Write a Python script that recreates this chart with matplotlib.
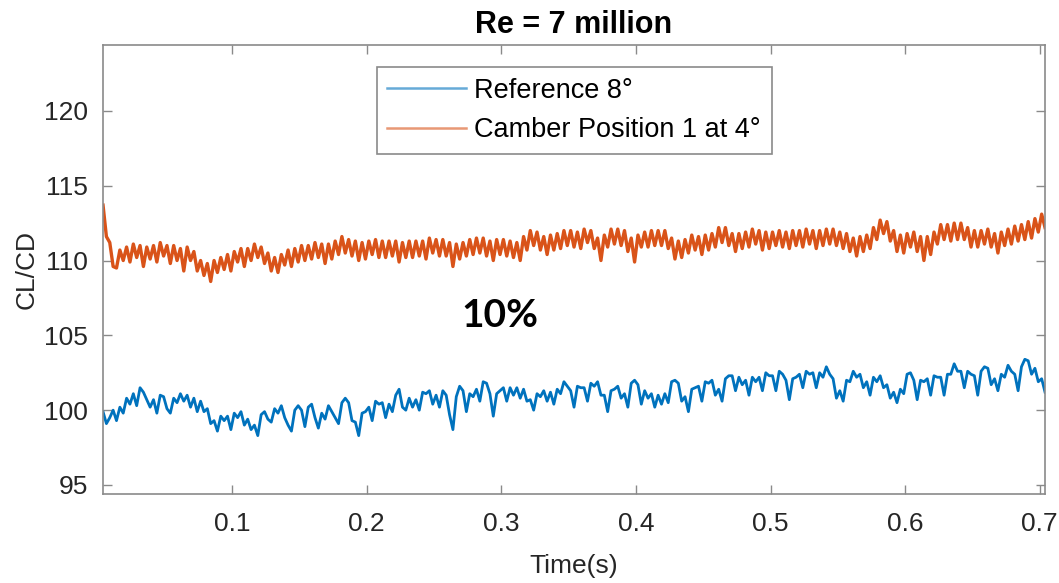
import numpy as np
import matplotlib
matplotlib.use('Agg')
import matplotlib.pyplot as plt

plt.rcParams['font.family'] = ['Liberation Sans', 'DejaVu Sans']

# sampled CL/CD values, one every 2.5 ms starting at t = 0.004 s
t0 = 0.004
dt = 0.0025

reference_8deg = [
    99.9, 99.1, 99.5, 100.0, 99.3, 100.2, 99.8, 100.8, 100.4, 101.1,
    100.3, 101.5, 101.2, 100.7, 100.2, 100.7, 99.8, 101.0, 100.9, 100.1,
    99.8, 100.8, 100.5, 101.1, 100.6, 101.0, 100.2, 100.8, 99.9, 100.6,
    99.9, 100.1, 99.1, 99.3, 98.6, 99.6, 99.3, 99.6, 98.7, 99.8,
    99.5, 99.9, 99.0, 99.4, 98.7, 99.0, 98.3, 99.7, 99.9, 99.4,
    99.2, 100.1, 99.8, 100.3, 99.5, 99.0, 98.6, 100.0, 100.3, 100.0,
    98.9, 100.2, 100.4, 99.5, 98.8, 99.8, 99.4, 100.3, 99.9, 99.5,
    99.1, 100.5, 100.8, 100.5, 99.3, 99.2, 98.3, 99.8, 99.9, 100.2,
    99.3, 100.6, 100.4, 100.5, 99.5, 100.4, 99.9, 101.0, 101.4, 100.2,
    100.0, 100.8, 100.2, 100.7, 100.0, 101.2, 101.1, 101.3, 100.4, 101.0,
    100.2, 101.3, 101.0, 99.7, 98.7, 100.9, 101.6, 101.3, 99.9, 101.1,
    100.9, 101.4, 100.6, 101.9, 101.8, 101.1, 99.6, 101.1, 101.3, 101.5,
    100.6, 101.5, 101.0, 101.5, 100.8, 101.4, 100.6, 100.7, 100.0, 101.1,
    100.9, 101.3, 100.6, 101.2, 100.4, 101.4, 101.1, 101.9, 101.6, 101.3,
    100.2, 101.6, 101.5, 101.5, 100.6, 101.8, 101.6, 101.9, 101.0, 101.0,
    99.9, 101.3, 101.4, 101.6, 100.8, 101.1, 100.2, 101.8, 102.0, 101.7,
    100.4, 101.3, 100.8, 101.1, 100.2, 101.0, 100.4, 101.1, 100.5, 101.9,
    102.0, 101.8, 100.6, 100.9, 99.9, 101.4, 101.5, 101.6, 100.6, 101.9,
    101.8, 102.0, 101.0, 101.4, 100.6, 102.1, 102.3, 102.3, 101.3, 102.2,
    101.7, 102.0, 101.0, 102.2, 101.9, 102.2, 101.3, 102.5, 102.3, 102.3,
    101.3, 102.6, 102.4, 102.0, 100.7, 102.1, 102.2, 102.4, 101.5, 102.6,
    102.4, 102.5, 101.5, 102.5, 102.2, 102.9, 102.4, 102.1, 100.8, 101.3,
    100.6, 102.0, 101.9, 102.6, 102.2, 102.4, 101.5, 101.9, 101.0, 102.2,
    101.9, 102.3, 101.5, 101.7, 100.8, 101.2, 100.5, 101.4, 101.1, 102.4,
    102.5, 102.0, 100.7, 102.0, 101.9, 102.1, 101.0, 102.3, 102.2, 102.2,
    101.0, 102.4, 102.4, 103.1, 102.6, 102.6, 101.5, 102.6, 102.4, 102.3,
    101.0, 102.6, 102.9, 102.8, 101.7, 102.1, 101.3, 102.4, 102.2, 103.0,
    102.6, 102.4, 101.3, 102.9, 103.4, 103.3, 102.4, 102.8, 101.9, 102.1,
    101.2,
]

camber_pos1_4deg = [
    113.7, 111.6, 111.2, 109.6, 109.5, 110.7, 110.0, 110.9, 109.9, 111.1,
    110.2, 111.0, 109.6, 110.9, 110.1, 111.0, 109.9, 111.2, 110.3, 111.0,
    109.8, 111.0, 110.0, 110.8, 109.3, 110.9, 110.0, 110.6, 109.3, 110.0,
    109.0, 109.8, 108.6, 110.0, 109.2, 110.2, 109.4, 110.4, 109.3, 110.6,
    109.9, 110.8, 109.6, 110.8, 110.0, 111.1, 110.2, 110.9, 109.8, 110.5,
    109.3, 110.2, 109.2, 110.4, 109.7, 110.7, 109.6, 110.8, 109.9, 111.0,
    110.0, 111.0, 110.1, 111.2, 110.2, 111.1, 109.8, 111.1, 110.1, 111.3,
    110.4, 111.6, 110.5, 111.4, 110.3, 111.3, 110.0, 111.2, 110.1, 111.3,
    110.4, 111.4, 110.2, 111.3, 110.2, 111.3, 110.3, 111.3, 109.9, 111.2,
    110.2, 111.3, 110.2, 111.3, 110.3, 111.3, 110.1, 111.5, 110.5, 111.4,
    110.3, 111.4, 110.3, 111.2, 109.6, 111.1, 110.1, 111.2, 110.3, 111.4,
    110.4, 111.5, 110.5, 111.5, 110.3, 111.3, 110.0, 111.4, 110.4, 111.4,
    110.3, 111.3, 110.2, 111.2, 110.0, 111.6, 110.7, 112.0, 111.0, 111.9,
    110.7, 111.6, 110.4, 111.7, 110.7, 111.8, 110.8, 112.0, 111.0, 112.0,
    110.9, 111.9, 110.8, 112.1, 111.2, 112.0, 110.8, 111.5, 110.0, 111.7,
    110.9, 112.1, 111.1, 112.1, 111.0, 112.0, 110.6, 111.5, 109.9, 111.7,
    110.9, 111.9, 110.9, 112.0, 111.0, 112.0, 111.0, 112.0, 110.8, 111.5,
    110.1, 111.3, 110.2, 111.4, 110.5, 111.7, 110.7, 111.6, 110.4, 111.7,
    110.7, 111.8, 110.9, 112.2, 111.2, 112.2, 111.0, 111.8, 110.6, 111.8,
    110.8, 111.9, 110.9, 112.1, 111.1, 112.0, 110.7, 111.9, 110.8, 111.9,
    111.0, 112.0, 110.9, 111.9, 110.8, 112.0, 111.0, 112.0, 110.9, 112.1,
    111.1, 112.0, 110.8, 112.0, 111.0, 112.1, 111.1, 112.1, 111.0, 111.9,
    110.8, 111.8, 110.6, 111.5, 110.3, 111.6, 110.6, 111.7, 110.8, 112.2,
    111.4, 112.7, 111.8, 112.6, 111.3, 112.0, 110.6, 111.7, 110.5, 111.8,
    110.9, 111.9, 110.6, 111.6, 110.0, 111.6, 110.4, 111.9, 111.1, 112.4,
    111.4, 112.4, 111.3, 112.5, 111.4, 112.5, 111.4, 112.2, 110.9, 112.0,
    110.9, 112.0, 111.1, 112.1, 110.9, 111.8, 110.5, 111.9, 111.0, 112.1,
    111.1, 112.3, 111.3, 112.4, 111.4, 112.6, 111.5, 112.8, 111.9, 113.1,
    112.2,
]

series_labels = ['Reference 8°', 'Camber Position 1 at 4°']
x_ticks = [0.1, 0.2, 0.3, 0.4, 0.5, 0.6, 0.7]
y_ticks = [95, 100, 105, 110, 115, 120]

t_ref = t0 + dt * np.arange(len(reference_8deg))
t_cam = t0 + dt * np.arange(len(camber_pos1_4deg))

fig = plt.figure(figsize=(10.59, 5.83), dpi=100)
ax = fig.add_axes([0.0973, 0.1527, 0.8895, 0.7701])

ax.plot(t_ref, reference_8deg, color='#0072BD', lw=2.0, label=series_labels[0])
ax.plot(t_cam, camber_pos1_4deg, color='#D95319', lw=2.4, label=series_labels[1])

ax.set_xlim(0.004, 0.704)
ax.set_ylim(94.4, 124.4)
ax.set_xticks(x_ticks)
ax.set_xticklabels([str(v) for v in x_ticks])
ax.set_yticks(y_ticks)

for s in ax.spines.values():
    s.set_color('#8a8a8a')
    s.set_linewidth(1.2)
ax.tick_params(direction='in', length=6.5, width=1.0, color='#8a8a8a',
               top=True, right=True, labelsize=19, labelcolor='#262626')
ax.tick_params(axis='x', pad=13)
ax.tick_params(axis='y', pad=11)

ax.set_xlabel('Time(s)', fontsize=19, color='#262626', labelpad=13)
ax.set_ylabel('CL/CD', fontsize=19, color='#262626', labelpad=4)
ax.set_title('Re = 7 million', fontsize=22, fontweight='bold', pad=9)

leg = ax.legend(loc='upper center', bbox_to_anchor=(0.5, 0.951), fontsize=19.5,
                fancybox=False, framealpha=1, edgecolor='#8a8a8a',
                handlelength=2.9, handletextpad=0.3, borderpad=0.4,
                labelspacing=0.5, borderaxespad=0)
leg.get_frame().set_linewidth(1.2)
for line in leg.get_lines():
    line.set_linewidth(1.8)
    line.set_alpha(0.6)

ax.text(0.299, 106.3, '10%', fontsize=28, fontweight='bold', family=['Lato', 'DejaVu Sans'],
        ha='center', va='center')

fig.savefig('out.png', dpi=100)
